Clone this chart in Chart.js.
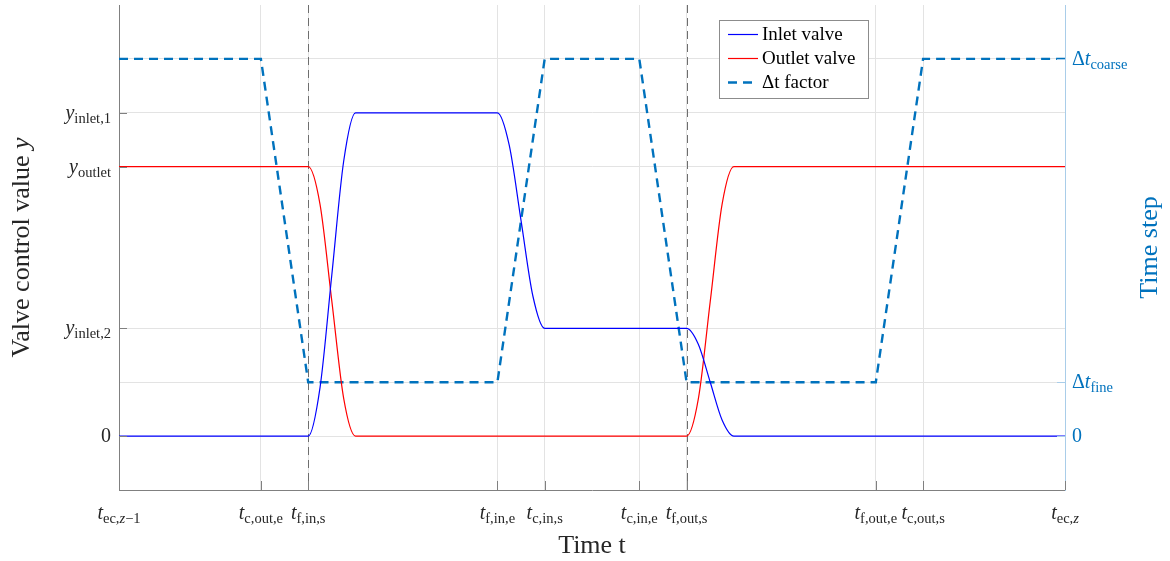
<!DOCTYPE html>
<html>
<head>
<meta charset="utf-8">
<script src="https://cdn.jsdelivr.net/npm/chart.js@4.4.1/dist/chart.umd.min.js"></script>
<style>
  html, body { margin: 0; padding: 0; background: #fff; }
  #wrap { width: 1170px; height: 561px; }
</style>
</head>
<body>
<div id="wrap"><canvas id="valves"></canvas></div>
<script>
// time axis: t_ec,z-1 .. t_ec,z mapped onto 0..20
var tickTimes = [0, 3, 4, 8, 9, 11, 12, 16, 17, 20];
// label pieces: [text, style]  i = italic, n = upright, s = subscript, si = italic subscript
var tickNames = [
    [['t', 'i'], ['ec,', 's'], ['z', 'si'], ['\u22121', 's']],
    [['t', 'i'], ['c,out,e', 's']],
    [['t', 'i'], ['f,in,s', 's']],
    [['t', 'i'], ['f,in,e', 's']],
    [['t', 'i'], ['c,in,s', 's']],
    [['t', 'i'], ['c,in,e', 's']],
    [['t', 'i'], ['f,out,s', 's']],
    [['t', 'i'], ['f,out,e', 's']],
    [['t', 'i'], ['c,out,s', 's']],
    [['t', 'i'], ['ec,', 's'], ['z', 'si']]
];

var valveLevels = [0, 2, 5, 6];
var valveNames = [
    [['0', 'n']],
    [['y', 'i'], ['inlet,2', 's']],
    [['y', 'i'], ['outlet', 's']],
    [['y', 'i'], ['inlet,1', 's']]
];

var stepLevels = [0, 1, 7];
var stepNames = [
    [['0', 'n']],
    [['\u0394', 'n'], ['t', 'i'], ['fine', 's']],
    [['\u0394', 'n'], ['t', 'i'], ['coarse', 's']]
];

// valve switching instants (dashed markers)
var switchTimes = [4, 12];

var inletTime  = [0, 4, 4.25, 4.5, 4.75, 5, 8, 8.25, 8.5, 8.75, 9, 12, 12.25, 12.5, 12.75, 13, 20];
var inletValue = [0, 0, 0.9, 3, 5.1, 6, 6, 5.4, 4, 2.6, 2, 2, 1.7, 1, 0.3, 0, 0];

var outletTime  = [0, 4, 4.25, 4.5, 4.75, 5, 12, 12.25, 12.5, 12.75, 13, 20];
var outletValue = [5, 5, 4.3, 2.5, 0.7, 0, 0, 0.7, 2.5, 4.3, 5, 5];

var stepTime  = [0, 3, 4, 8, 9, 11, 12, 16, 17, 20];
var stepValue = [7, 7, 1, 1, 7, 7, 1, 1, 7, 7];

var BLUE = '#0000ff', RED = '#ff0000', STEP = '#0072bd';
var GRID = '#e3e3e3', AXIS = '#808080', AXIS_R = '#a9cde9';
var SERIF = "'Liberation Serif', 'Times New Roman', serif";

var pts = function (xs, ys) {
    return xs.map(function (x, i) { return {x: x, y: ys[i]}; });
};

var fontFor = function (style) {
    var size = (style == 's' || style == 'si') ? 14.5 : 20;
    var it = (style == 'i' || style == 'si') ? 'italic ' : '';
    return it + size + 'px ' + SERIF;
};

var pieceWidth = function (ctx, pieces) {
    var w = 0;
    pieces.forEach(function (p) {
        ctx.font = fontFor(p[1]);
        w += ctx.measureText(p[0]).width;
    });
    return w;
};

// draws a label with subscripts; align is left / center / right
var drawPieces = function (ctx, pieces, x, base, align, color) {
    var w = pieceWidth(ctx, pieces);
    var cx = align == 'left' ? x : (align == 'center' ? x - w / 2 : x - w);
    ctx.textAlign = 'left';
    ctx.textBaseline = 'alphabetic';
    ctx.fillStyle = color;
    pieces.forEach(function (p) {
        ctx.font = fontFor(p[1]);
        var sub = p[1] == 's' || p[1] == 'si';
        ctx.fillText(p[0], cx, base + (sub ? 4 : 0));
        cx += ctx.measureText(p[0]).width;
    });
};

var decor = {
    id: 'decor',
    beforeDatasetsDraw: function (chart) {
        var ctx = chart.ctx, a = chart.chartArea, xs = chart.scales.x;
        ctx.save();
        ctx.strokeStyle = '#6e6e6e';
        ctx.lineWidth = 1;
        ctx.setLineDash([8, 5]);
        switchTimes.forEach(function (t) {
            var px = Math.round(xs.getPixelForValue(t)) + 0.5;
            ctx.beginPath();
            ctx.moveTo(px, a.top);
            ctx.lineTo(px, a.bottom);
            ctx.stroke();
        });
        ctx.restore();
    },
    afterDraw: function (chart) {
        var ctx = chart.ctx, a = chart.chartArea;
        var xs = chart.scales.x, yl = chart.scales.y, yr = chart.scales.y1;
        ctx.save();

        // inward tick marks
        ctx.lineWidth = 1;
        ctx.strokeStyle = AXIS;
        tickTimes.forEach(function (t) {
            var px = Math.round(xs.getPixelForValue(t)) + 0.5;
            ctx.beginPath();
            ctx.moveTo(px, a.bottom);
            ctx.lineTo(px, a.bottom - 9);
            ctx.stroke();
        });
        valveLevels.forEach(function (v) {
            var py = Math.round(yl.getPixelForValue(v)) + 0.5;
            ctx.beginPath();
            ctx.moveTo(a.left, py);
            ctx.lineTo(a.left + 8, py);
            ctx.stroke();
        });
        ctx.strokeStyle = AXIS_R;
        stepLevels.forEach(function (v) {
            var py = Math.round(yr.getPixelForValue(v)) + 0.5;
            ctx.beginPath();
            ctx.moveTo(a.right, py);
            ctx.lineTo(a.right - 8, py);
            ctx.stroke();
        });

        // tick labels
        tickTimes.forEach(function (t, i) {
            drawPieces(ctx, tickNames[i], xs.getPixelForValue(t), a.bottom + 29, 'center', '#262626');
        });
        valveLevels.forEach(function (v, i) {
            drawPieces(ctx, valveNames[i], a.left - 8, yl.getPixelForValue(v) + 6, 'right', '#262626');
        });
        stepLevels.forEach(function (v, i) {
            drawPieces(ctx, stepNames[i], a.right + 7, yr.getPixelForValue(v) + 6, 'left', STEP);
        });

        // axis titles
        var midY = (a.top + a.bottom) / 2;
        ctx.textBaseline = 'middle';
        ctx.fillStyle = '#262626';
        ctx.font = '26px ' + SERIF;
        ctx.textAlign = 'center';
        ctx.fillText('Time t', (a.left + a.right) / 2, 546);

        ctx.save();
        ctx.translate(22, midY);
        ctx.rotate(-Math.PI / 2);
        var t1 = 'Valve control value ';
        ctx.font = '26px ' + SERIF;
        var w1 = ctx.measureText(t1).width;
        ctx.font = 'italic 26px ' + SERIF;
        var w2 = ctx.measureText('y').width;
        ctx.textAlign = 'left';
        ctx.font = '26px ' + SERIF;
        ctx.fillText(t1, -(w1 + w2) / 2, 0);
        ctx.font = 'italic 26px ' + SERIF;
        ctx.fillText('y', -(w1 + w2) / 2 + w1, 0);
        ctx.restore();

        ctx.save();
        ctx.translate(1150, midY);
        ctx.rotate(-Math.PI / 2);
        ctx.fillStyle = STEP;
        ctx.font = '26px ' + SERIF;
        ctx.textAlign = 'center';
        ctx.fillText('Time step', 0, 0);
        ctx.restore();

        // legend
        ctx.fillStyle = '#ffffff';
        ctx.fillRect(719, 20, 149, 78);
        ctx.strokeStyle = '#8c8c8c';
        ctx.lineWidth = 1;
        ctx.strokeRect(719.5, 20.5, 149, 78);
        chart.data.datasets.forEach(function (ds, i) {
            var ly = 34 + i * 24;
            ctx.save();
            ctx.strokeStyle = ds.borderColor;
            ctx.lineWidth = ds.borderWidth;
            ctx.setLineDash(ds.borderDash || []);
            ctx.beginPath();
            ctx.moveTo(728, ly + 0.5);
            ctx.lineTo(758, ly + 0.5);
            ctx.stroke();
            ctx.restore();
            ctx.fillStyle = '#000';
            ctx.font = '19px ' + SERIF;
            ctx.textAlign = 'left';
            ctx.textBaseline = 'alphabetic';
            ctx.fillText(ds.label, 762, ly + 6);
        });

        ctx.restore();
    }
};

var fixTicks = function (vals) {
    return function (scale) {
        scale.ticks = vals.map(function (v) { return {value: v}; });
    };
};

new Chart(document.getElementById('valves'), {
    type: 'line',
    data: {
        datasets: [{
            label: 'Inlet valve',
            data: pts(inletTime, inletValue),
            borderColor: BLUE,
            borderWidth: 1.2,
            cubicInterpolationMode: 'monotone',
            pointRadius: 0,
            yAxisID: 'y'
        }, {
            label: 'Outlet valve',
            data: pts(outletTime, outletValue),
            borderColor: RED,
            borderWidth: 1.2,
            cubicInterpolationMode: 'monotone',
            pointRadius: 0,
            yAxisID: 'y'
        }, {
            label: '\u0394t factor',
            data: pts(stepTime, stepValue),
            borderColor: STEP,
            borderWidth: 2.4,
            borderDash: [9, 6],
            tension: 0,
            pointRadius: 0,
            yAxisID: 'y1'
        }]
    },
    options: {
        responsive: true,
        maintainAspectRatio: false,
        animation: false,
        layout: {padding: {top: 5, left: 0, right: 0, bottom: 0}},
        plugins: {legend: {display: false}, tooltip: {enabled: false}},
        scales: {
            x: {
                type: 'linear', min: 0, max: 20,
                afterBuildTicks: fixTicks(tickTimes),
                afterFit: function (s) { s.height = 71; },
                ticks: {display: false},
                grid: {color: GRID, drawTicks: false},
                border: {color: AXIS}
            },
            y: {
                position: 'left', min: -1, max: 8,
                afterBuildTicks: fixTicks(valveLevels),
                afterFit: function (s) { s.width = 119; },
                ticks: {display: false},
                grid: {color: GRID, drawTicks: false},
                border: {color: AXIS}
            },
            y1: {
                position: 'right', min: -1, max: 8,
                afterBuildTicks: fixTicks(stepLevels),
                afterFit: function (s) { s.width = 105; },
                ticks: {display: false},
                grid: {color: GRID, drawTicks: false},
                border: {color: AXIS_R}
            }
        }
    },
    plugins: [decor]
});
</script>
</body>
</html>
